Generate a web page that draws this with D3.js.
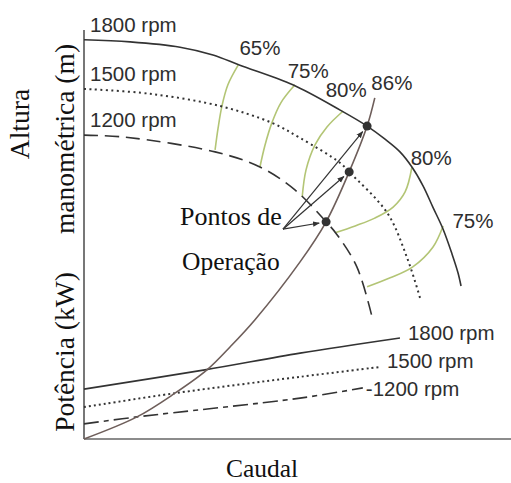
<!DOCTYPE html>
<html>
<head>
<meta charset="utf-8">
<script src="https://cdn.jsdelivr.net/npm/d3@7"></script>
<style>
  body { margin: 0; background: #fff; }
  svg { display: block; }
  .serif { font-family: "Liberation Serif", "Times New Roman", serif; fill: #111; }
  .sans { font-family: "Liberation Sans", Arial, sans-serif; fill: #2e2e2e; font-size: 20.5px; }
</style>
</head>
<body>
<div id="chart"></div>
<script>
// flow (Caudal) and head / power values, arbitrary units 0..100
var speeds = ["1800 rpm", "1500 rpm", "1200 rpm"];

var headQ1800 = [0, 10.8, 22.5, 30.2, 36.5, 48.9, 60.0, 66.3, 70.5, 74.0, 76.8, 79.4, 81.7, 84.1, 86.2, 87.6, 88.3];
var headH1800 = [97.6, 97.1, 95.8, 93.9, 91.4, 86.6, 80.4, 76.5, 73.3, 70.2, 66.5, 61.9, 56.7, 51.3, 45.2, 40.6, 37.4];
var headQ1500 = [0, 15.5, 31.9, 44.0, 50.6, 60.0, 62.1, 71.0, 75.6, 78.7];
var headH1500 = [85.6, 84.4, 81.4, 77.3, 73.6, 67.5, 65.3, 55.3, 44.5, 34.5];
var headQ1200 = [0, 9.6, 30.7, 41.2, 49.4, 56.7, 59.3, 63.9, 67.4];
var headH1200 = [74.3, 73.8, 70.2, 66.5, 60.9, 53.1, 49.9, 42.1, 30.1];

var systemQ = [0, 12.4, 21.3, 28.8, 34.2, 40.0, 50.6, 56.7, 62.1, 66.3, 68.1];
var systemH = [0, 5.4, 11.2, 16.9, 22.5, 29.1, 43.3, 53.1, 65.3, 76.5, 83.4];

var powerQ1800 = [0, 28.3, 50.6, 74.0];
var powerP1800 = [12.2, 16.9, 21.0, 24.7];
var powerQ1500 = [0, 21.3, 50.6, 69.3];
var powerP1500 = [7.8, 11.2, 15.2, 17.6];
var powerQ1200 = [0, 12.4, 50.6, 65.3];
var powerP1200 = [3.7, 5.4, 10.0, 12.5];

// operating points (1200, 1500, 1800)
var opQ = [56.7, 62.1, 66.3];
var opH = [53.1, 65.3, 76.5];

// iso-efficiency curves
var effNames = ["65%", "75%", "80%", "86%", "80%", "75%"];
var effQ = [
  [36.1, 33.7, 32.3, 31.4, 30.7],
  [49.4, 46.1, 44.0, 42.4, 41.2],
  [60.7, 56.9, 54.1, 52.0, 51.1],
  [],
  [76.8, 75.2, 72.4, 68.1, 63.5, 58.8],
  [84.1, 81.7, 77.0, 71.7, 66.3]
];
var effH = [
  [91.4, 86.6, 81.4, 76.0, 70.7],
  [86.6, 82.2, 77.3, 71.9, 66.5],
  [80.2, 76.3, 71.9, 65.8, 59.2],
  [],
  [66.5, 60.4, 56.7, 54.0, 52.1, 50.4],
  [52.1, 46.9, 42.1, 39.4, 37.2]
];
// where the percentage labels sit (Q, H)
var effLabelQ = [41.2, 52.5, 61.4, 72.1, 81.3, 91.1];
var effLabelH = [93.9, 88.3, 83.6, 85.3, 67.0, 51.6];

var width = 511,
    height = 483;

var svg = d3.select("#chart").append("svg")
    .attr("width", width)
    .attr("height", height);

var x = d3.scaleLinear().domain([0, 100]).range([84, 511]);
var y = d3.scaleLinear().domain([0, 100]).range([439, 30]);

var line = d3.line()
    .x(function(d) { return x(d[0]); })
    .y(function(d) { return y(d[1]); })
    .curve(d3.curveCatmullRom.alpha(0.5));

function pairs(a, b) { return a.map(function(v, i) { return [v, b[i]]; }); }

var dashes = [null, "2,3.5", "14,7"];
var powerDashes = [null, "2,3", "15,5,5,5"];

// axes
svg.append("line")
    .attr("x1", x(0)).attr("x2", x(0))
    .attr("y1", y(100)).attr("y2", y(0))
    .attr("stroke", "#555").attr("stroke-width", 1.6);
svg.append("line")
    .attr("x1", x(0)).attr("x2", x(100))
    .attr("y1", y(0)).attr("y2", y(0))
    .attr("stroke", "#666").attr("stroke-width", 1.4);

// efficiency curves
effQ.forEach(function(q, i) {
    if (!q.length) return;
    svg.append("path")
        .attr("d", line(pairs(q, effH[i])))
        .attr("fill", "none")
        .attr("stroke", "#b3c575")
        .attr("stroke-width", 1.6);
});

// head curves
var heads = [pairs(headQ1800, headH1800), pairs(headQ1500, headH1500), pairs(headQ1200, headH1200)];
heads.forEach(function(h, i) {
    svg.append("path")
        .attr("d", line(h))
        .attr("fill", "none")
        .attr("stroke", "#333")
        .attr("stroke-width", i == 1 ? 2 : 1.6)
        .attr("stroke-dasharray", dashes[i]);
    svg.append("text")
        .attr("class", "sans")
        .attr("x", x(0) + 6)
        .attr("y", y(h[0][1]) - 8)
        .text(speeds[i]);
});

// power curves
var powers = [pairs(powerQ1800, powerP1800), pairs(powerQ1500, powerP1500), pairs(powerQ1200, powerP1200)];
var powerLabelDx = [8, 7, 3],
    powerLabelDy = [2, 1, 8];
powers.forEach(function(p, i) {
    svg.append("path")
        .attr("d", line(p))
        .attr("fill", "none")
        .attr("stroke", "#333")
        .attr("stroke-width", i == 1 ? 2 : 1.6)
        .attr("stroke-dasharray", powerDashes[i]);
    var last = p[p.length - 1];
    svg.append("text")
        .attr("class", "sans")
        .attr("x", x(last[0]) + powerLabelDx[i])
        .attr("y", y(last[1]) + powerLabelDy[i])
        .text((i == 2 ? "-" : "") + speeds[i]);
});

// system curve
svg.append("path")
    .attr("d", line(pairs(systemQ, systemH)))
    .attr("fill", "none")
    .attr("stroke", "#6e5e5a")
    .attr("stroke-width", 1.6);

// efficiency labels
effNames.forEach(function(n, i) {
    svg.append("text")
        .attr("class", "sans")
        .attr("text-anchor", "middle")
        .attr("x", x(effLabelQ[i]))
        .attr("y", y(effLabelH[i]))
        .text(n);
});

// arrows from the caption to the operating points
svg.append("defs").append("marker")
    .attr("id", "arrow")
    .attr("viewBox", "0 0 10 10")
    .attr("refX", 9).attr("refY", 5)
    .attr("markerWidth", 7).attr("markerHeight", 7)
    .attr("markerUnits", "userSpaceOnUse")
    .attr("orient", "auto")
  .append("path")
    .attr("d", "M0,1L10,5L0,9Z")
    .attr("fill", "#333");

var arrowFromQ = 46.6, arrowFromH = 51.3;
opQ.forEach(function(q, i) {
    var x0 = x(arrowFromQ), y0 = y(arrowFromH),
        x1 = x(q), y1 = y(opH[i]),
        len = Math.hypot(x1 - x0, y1 - y0),
        k = (len - 7) / len;
    svg.append("line")
        .attr("x1", x0).attr("y1", y0)
        .attr("x2", x0 + (x1 - x0) * k).attr("y2", y0 + (y1 - y0) * k)
        .attr("stroke", "#333").attr("stroke-width", 1.2)
        .attr("marker-end", "url(#arrow)");
});

svg.selectAll("circle.op")
    .data(opQ)
  .enter().append("circle")
    .attr("class", "op")
    .attr("cx", function(d) { return x(d); })
    .attr("cy", function(d, i) { return y(opH[i]); })
    .attr("r", 4.5)
    .attr("fill", "#333");

// captions
svg.append("text").attr("class", "serif")
    .attr("x", 180).attr("y", 225)
    .style("font-size", "26px")
    .text("Pontos de");
svg.append("text").attr("class", "serif")
    .attr("x", 182).attr("y", 270)
    .style("font-size", "25.5px")
    .text("Operação");

svg.append("text").attr("class", "serif")
    .attr("text-anchor", "middle")
    .attr("x", 262).attr("y", 477)
    .style("font-size", "25.5px")
    .text("Caudal");

var yTitles = [["Altura", 20, 124], ["manométrica (m)", 65, 139], ["Potência (kW)", 65, 352]];
yTitles.forEach(function(t) {
    svg.append("text").attr("class", "serif")
        .attr("text-anchor", "middle")
        .attr("dy", "0.33em")
        .attr("transform", "translate(" + t[1] + "," + t[2] + ") rotate(-90)")
        .style("font-size", "27.5px")
        .text(t[0]);
});
</script>
</body>
</html>
